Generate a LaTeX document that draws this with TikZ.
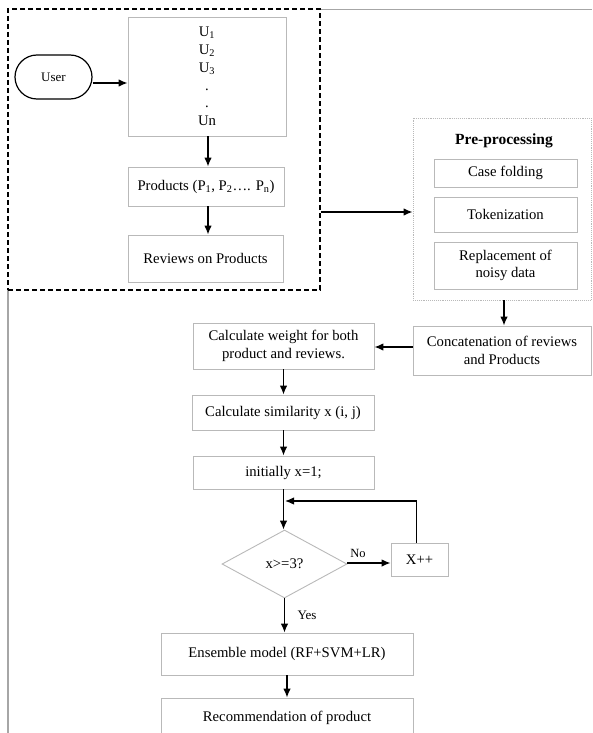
\documentclass[tikz,border=0pt]{standalone}
\usepackage{fontspec}
\setmainfont{Liberation Serif}
\usetikzlibrary{arrows.meta,shapes.geometric,calc}
\newcommand{\fsmain}{\fontsize{14.7}{17.8}\selectfont}
\tikzset{
  box/.style={draw=gray!55, line width=0.9pt, fill=white, inner sep=0pt, align=center, font=\fsmain},
  arr/.style={-{Latex[length=9pt,width=7.5pt]}, line width=1.3pt, black},
  lbl/.style={inner sep=0pt, font=\fontsize{12.5}{14}\selectfont},
}
\begin{document}
\begin{tikzpicture}[x=1pt,y=-1pt]
\useasboundingbox (0,0) rectangle (592,733);
% page frame
\draw[gray!70, line width=0.9pt] (592,9) -- (320,9);
\draw[gray!70, line width=1.2pt] (8,290) -- (8,733);
% dashed group
\node[draw=black, dashed, dash pattern=on 5pt off 3pt, line width=1.2pt, minimum width=312pt, minimum height=281pt, inner sep=0pt] (grp) at (164,149.5) {};
\node[draw=black, line width=1.2pt, rounded corners=22pt, minimum width=77pt, minimum height=44pt, inner sep=0pt, font=\fontsize{13}{15}\selectfont] (user) at (53.5,77) {User};
\node[box, minimum width=158pt, minimum height=119pt] (U) at (207,76.5) {U\textsubscript{1}\\U\textsubscript{2}\\U\textsubscript{3}\\.\\.\\Un};
\node[box, minimum width=156pt, minimum height=39pt] (prod) at (206,186.5) {Products (P\textsubscript{1}, P\textsubscript{2}…. P\textsubscript{n})};
\node[box, minimum width=155pt, minimum height=47pt] (rev) at (205.5,258.5) {Reviews on Products};
% pre-processing
\node[draw=gray!55, densely dotted, line width=0.9pt, minimum width=178pt, minimum height=182pt, inner sep=0pt] (pre) at (502,209) {};
\node[inner sep=0pt, font=\fontsize{15.5}{17}\selectfont\bfseries] (ptitle) at (504,141) {Pre-processing};
\node[box, minimum width=143pt, minimum height=28pt] (case) at (505.5,173) {Case folding};
\node[box, minimum width=143pt, minimum height=35pt] (tok) at (505.5,214.5) {Tokenization};
\node[box, minimum width=143pt, minimum height=47pt] (rep) at (505.5,265.5) {Replacement of\\noisy data};
\node[box, minimum width=178pt, minimum height=49pt] (conc) at (502,350.5) {Concatenation of reviews\\and Products};
% main flow
\node[box, minimum width=181pt, minimum height=46pt] (wt) at (283.5,346) {Calculate weight for both\\product and reviews.};
\node[box, minimum width=182pt, minimum height=35pt] (sim) at (283,412.5) {Calculate similarity x (i, j)};
\node[box, minimum width=181pt, minimum height=33pt] (init) at (283.5,472.5) {initially x=1;};
\node[draw=gray!55, line width=0.9pt, fill=white, diamond, shape aspect=1.84, minimum width=125pt, minimum height=68pt, inner sep=0pt, font=\fsmain] (dia) at (284.5,564) {x>=3?};
\node[box, minimum width=57pt, minimum height=33pt] (xpp) at (419.5,559.5) {X++};
\node[box, minimum width=252pt, minimum height=42pt] (ens) at (287,654) {Ensemble model (RF+SVM+LR)};
\node[box, minimum width=252pt, minimum height=42pt] (rec) at (287,719) {};
\node[inner sep=0pt, font=\fsmain] (rectext) at (287,718) {Recommendation of product};
\node[lbl] (no) at (358,553) {No};
\node[lbl, font=\fontsize{13}{15}\selectfont] (yes) at (307,615) {Yes};
\coordinate (loopend) at (285,501);
% connectors
\draw[arr] ($(user.east)+(0,6)$) -- ($(U.west)+(0,6.5)$);
\draw[arr] ($(U.south)+(1,0)$) -- ($(prod.north)+(2,0)$);
\draw[arr] ($(prod.south)+(2,0)$) -- ($(rev.north)+(2.5,0)$);
\draw[arr] ($(grp.east)+(0,62.5)$) -- ($(pre.west)+(0,3)$);
\draw[arr] ($(pre.south)+(2,0)$) -- ($(conc.north)+(2,0)$);
\draw[arr] ($(conc.west)+(0,-3.5)$) -- ($(wt.east)+(0,1)$);
\draw[arr] (wt.south) -- (wt.south |- sim.north);
\draw[arr] (wt.south |- sim.south) -- (wt.south |- init.north);
\draw[arr] (wt.south |- init.south) -- (wt.south |- dia.north);
\draw[arr] ($(dia.east)+(0,-1)$) -- ($(xpp.west)+(0,3.5)$);
\draw[arr] ($(xpp.north)+(-3,0)$) |- (loopend);
\draw[arr] (dia.south) -- (dia.south |- ens.north);
\draw[arr] (ens.south) -- (ens.south |- rec.north);
\end{tikzpicture}
\end{document}
